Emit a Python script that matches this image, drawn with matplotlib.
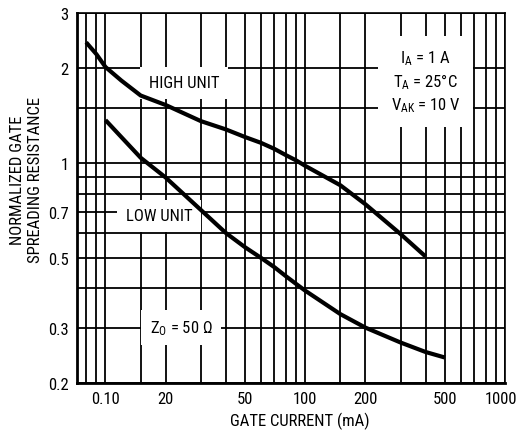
import matplotlib
matplotlib.use("Agg")
import matplotlib.pyplot as plt
import matplotlib.transforms as mtransforms
from matplotlib import font_manager

# pick a narrow sans if one is installed
installed = {f.name for f in font_manager.fontManager.ttflist}
family = 'Liberation Sans'
for name in ['Liberation Sans Narrow', 'Roboto Condensed', 'Open Sans Condensed', 'Noto Sans Condensed']:
    if name in installed:
        family = name
        break
narrow = family != 'Liberation Sans'
fs = 12 if narrow else 11

plt.rcParams['font.family'] = [family, 'DejaVu Sans']
plt.rcParams['mathtext.default'] = 'regular'

# gate current (mA) vs normalized gate spreading resistance
high_x = [8, 9, 10, 12, 15, 20, 30, 40, 50, 60, 70, 80, 90, 100, 150, 200, 300, 400]
high_y = [2.42, 2.22, 2.02, 1.83, 1.64, 1.53, 1.36, 1.28, 1.21, 1.16, 1.11, 1.06, 1.02, 0.98, 0.85, 0.74, 0.595, 0.505]

low_x = [10, 12, 15, 20, 30, 40, 50, 60, 70, 80, 90, 100, 150, 200, 300, 400, 500]
low_y = [1.37, 1.21, 1.04, 0.90, 0.71, 0.60, 0.54, 0.50, 0.467, 0.437, 0.413, 0.393, 0.331, 0.30, 0.269, 0.251, 0.241]

x_major = [10, 20, 50, 100, 200, 500, 1000]
x_labels = ["0.10", "20", "50", "100", "200", "500", "1000"]
x_minor = [8, 9, 15, 30, 40, 60, 70, 80, 90, 150, 300, 400, 600, 700, 800, 900]
y_major = [0.2, 0.3, 0.5, 0.7, 1, 2, 3]
y_labels = ["0.2", "0.3", "0.5", "0.7", "1", "2", "3"]
y_minor = [0.4, 0.6, 0.8, 0.9, 1.5]

fig = plt.figure(figsize=(5.18, 4.31), dpi=100)
ax = fig.add_axes([77 / 518, 47 / 431, 428 / 518, 370 / 431])

ax.set_xscale('log')
ax.set_yscale('log')
ax.set_xlim(7.2, 1000)
ax.set_ylim(0.2, 3)

ax.set_xticks(x_major)
ax.set_xticklabels(x_labels)
ax.set_xticks(x_minor, minor=True)
ax.set_xticklabels([], minor=True)
ax.set_yticks(y_major)
ax.set_yticklabels(y_labels)
ax.set_yticks(y_minor, minor=True)
ax.set_yticklabels([], minor=True)
ax.tick_params(which='both', length=0, labelsize=fs, pad=6)
ax.grid(which='both', color='black', linewidth=1.3)

# nudge "1000" left so it stays inside the figure
last = ax.get_xticklabels()[-1]
last.set_transform(last.get_transform() + mtransforms.ScaledTranslation(-0.04, 0, fig.dpi_scale_trans))

for side in ['left', 'bottom']:
    ax.spines[side].set_linewidth(2.0)
for side in ['top', 'right']:
    ax.spines[side].set_linewidth(1.2)

ax.plot(high_x, high_y, color='black', linewidth=3, zorder=4, solid_capstyle='butt')
ax.plot(low_x, low_y, color='black', linewidth=3, zorder=4, solid_capstyle='butt')

box = dict(facecolor='white', edgecolor='none', pad=6)
ax.text(24.7, 1.80, "HIGH UNIT", fontsize=fs, ha='center', va='center', bbox=box, zorder=3)
ax.text(18.5, 0.68, "LOW UNIT", fontsize=fs, ha='center', va='center', bbox=box, zorder=3)
ax.text(23.9, 0.30, r"$Z_O$ = 50 Ω", fontsize=fs, ha='center', va='center', bbox=box, zorder=3)
ax.text(400, 1.82, "$I_A$ = 1 A\n$T_A$ = 25°C\n$V_{AK}$ = 10 V", fontsize=fs,
        ha='center', va='center', multialignment='center', linespacing=1.3,
        bbox=dict(facecolor='white', edgecolor='none', pad=9), zorder=3)

fig.text(300 / 518, 1 - 421 / 431, "GATE CURRENT (mA)", fontsize=fs, ha='center', va='center')
fig.text(27 / 518, 1 - 180 / 431, "NORMALIZED GATE\nSPREADING RESISTANCE", fontsize=fs,
         ha='center', va='center', rotation=90, linespacing=1.25)

fig.savefig("out.png", dpi=100)
